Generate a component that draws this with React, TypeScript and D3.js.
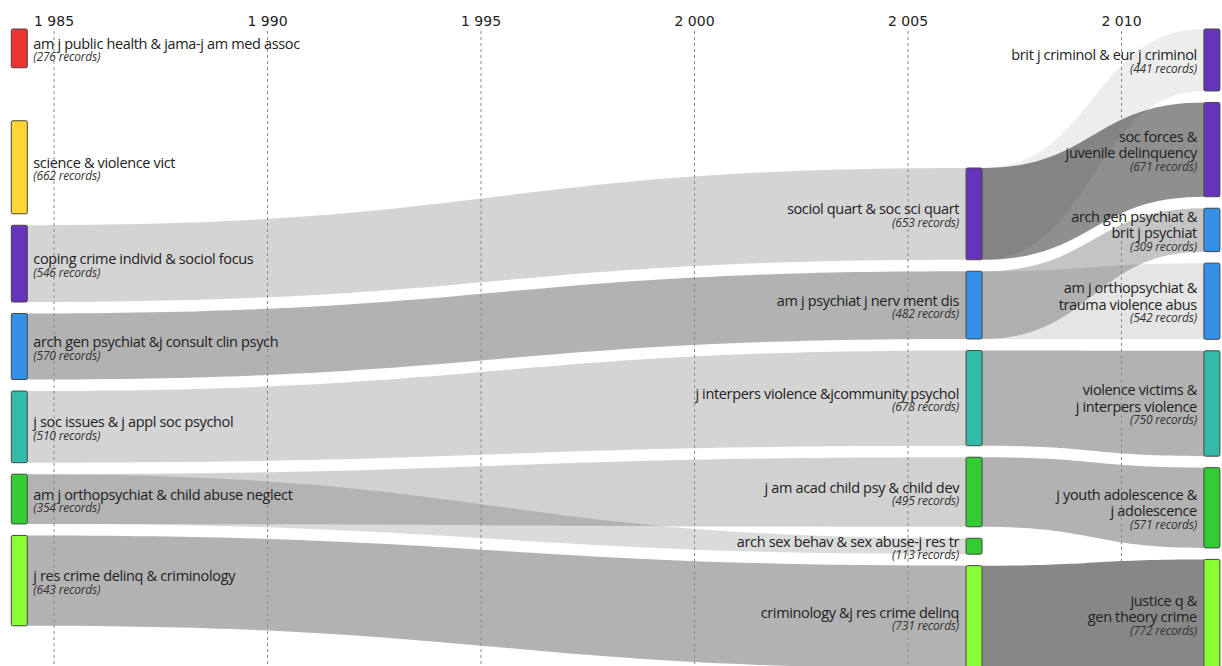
import React from "react";
import * as d3 from "d3";

// axis
const tickYears = [1985, 1990, 1995, 2000, 2005, 2010];
const columnYears = [1984, 2006.36, 2011.93];

// left column (1984)
const leftLabels = [
  "am j public health & jama-j am med assoc",
  "science & violence vict",
  "coping crime individ & sociol focus",
  "arch gen psychiat &j consult clin psych",
  "j soc issues & j appl soc psychol",
  "am j orthopsychiat & child abuse neglect",
  "j res crime delinq & criminology",
];
const leftRecords = [276, 662, 546, 570, 510, 354, 643];
const leftWeight = [276, 662, 546, 470, 510, 354, 643];
const leftCluster = ["medicine", "victimology", "sociology", "psychiatry", "violence", "child", "criminology"];

// middle column
const midLabels = [
  "sociol quart & soc sci quart",
  "am j psychiat j nerv ment dis",
  "j interpers violence &jcommunity psychol",
  "j am acad child psy & child dev",
  "arch sex behav & sex abuse-j res tr",
  "criminology &j res crime delinq",
];
const midRecords = [653, 482, 678, 495, 113, 731];
const midWeight = [653, 482, 678, 495, 113, 731];
const midCluster = ["sociology", "psychiatry", "violence", "child", "child", "criminology"];

// right column
const rightLabels = [
  "brit j criminol & eur j criminol",
  "soc forces &\njuvenile delinquency",
  "arch gen psychiat &\nbrit j psychiat",
  "am j orthopsychiat &\ntrauma violence abus",
  "violence victims &\nj interpers violence",
  "j youth adolescence &\nj adolescence",
  "justice q &\ngen theory crime",
];
const rightRecords = [441, 671, 309, 542, 750, 571, 772];
const rightWeight = [441, 671, 309, 542, 750, 571, 772];
const rightCluster = ["sociology", "sociology", "psychiatry", "psychiatry", "violence", "child", "criminology"];

// flows: source -> target, overlap share
const linkSource = ["L2", "L3", "L4", "L5", "L5", "L6", "M0", "M0", "M1", "M1", "M2", "M3", "M5"];
const linkTarget = ["M0", "M1", "M2", "M3", "M4", "M5", "R1", "R0", "R2", "R3", "R4", "R5", "R6"];
const linkOverlap = [0.17, 0.3, 0.17, 0.18, 0.14, 0.3, 0.44, 0.07, 0.23, 0.1, 0.3, 0.3, 0.47];

const clusterColor: Record<string, string> = {
  medicine: "#ee3333",
  victimology: "#ffd633",
  sociology: "#6633bb",
  psychiatry: "#3390e6",
  violence: "#33bbaa",
  child: "#33cc33",
  criminology: "#88ff33",
};

const W = 1222;
const H = 666;
const nodeW = 16;
const pad = 11.5;
const colTop = [29, 168, 29];
const extraGap: Record<string, number> = { L0: 41.5 };

const x = d3.scaleLinear().domain([1985, 2010]).range([54, 1121.5]);
const h = d3.scaleLinear().domain([0, 1000]).range([0, 140.5]);

const fmtLocale = d3.formatLocale({ decimal: ",", thousands: " ", grouping: [3], currency: ["", ""] });
const fmtYear = fmtLocale.format(",d");

type Node = {
  id: string;
  col: number;
  label: string[];
  records: number;
  color: string;
  x0: number;
  y0: number;
  y1: number;
};

const columns = [
  { prefix: "L", labels: leftLabels, records: leftRecords, weight: leftWeight, cluster: leftCluster },
  { prefix: "M", labels: midLabels, records: midRecords, weight: midWeight, cluster: midCluster },
  { prefix: "R", labels: rightLabels, records: rightRecords, weight: rightWeight, cluster: rightCluster },
];

const nodes: Node[] = [];
columns.forEach((c, ci) => {
  let y = colTop[ci];
  c.labels.forEach((lab, i) => {
    const id = c.prefix + i;
    const y0 = y;
    const y1 = y0 + h(c.weight[i]);
    nodes.push({
      id,
      col: ci,
      label: lab.split("\n"),
      records: c.records[i],
      color: clusterColor[c.cluster[i]],
      x0: x(columnYears[ci]),
      y0,
      y1,
    });
    y = y1 + pad + (extraGap[id] || 0);
  });
});
const byId = new Map(nodes.map((n) => [n.id, n]));

const links = linkSource.map((s, i) => ({
  source: byId.get(s)!,
  target: byId.get(linkTarget[i])!,
  overlap: linkOverlap[i],
}));

function bandPath(s: Node, t: Node) {
  const x0 = s.x0 + nodeW;
  const x1 = t.x0;
  const xm = (x0 + x1) / 2;
  const p = d3.path();
  p.moveTo(x0, s.y0);
  p.bezierCurveTo(xm, s.y0, xm, t.y0, x1, t.y0);
  p.lineTo(x1, t.y1);
  p.bezierCurveTo(xm, t.y1, xm, s.y1, x0, s.y1);
  p.closePath();
  return p.toString();
}

const labelFont = "'Open Sans', 'Noto Sans', sans-serif";

export default function App() {
  return (
    <svg
      width={W}
      height={H}
      viewBox={`0 0 ${W} ${H}`}
      style={{ position: "absolute", left: 0, top: 0, background: "#fff" }}
    >
      <g className="links">
        {links.map((l, i) => (
          <path key={i} d={bandPath(l.source, l.target)} fill="#000" fillOpacity={l.overlap} />
        ))}
      </g>
      <g className="grid">
        {tickYears.map((yr) => (
          <g key={yr}>
            <line
              x1={x(yr)}
              x2={x(yr)}
              y1={31}
              y2={H}
              stroke="#8a8a8a"
              strokeWidth={1}
              strokeDasharray="3,3"
            />
            <text
              x={x(yr)}
              y={26}
              textAnchor="middle"
              fontFamily="'DejaVu Sans', sans-serif"
              fontSize={14}
              fill="#222"
            >
              {fmtYear(yr)}
            </text>
          </g>
        ))}
      </g>
      <g className="nodes">
        {nodes.map((n) => (
          <rect
            key={n.id}
            x={n.x0}
            y={n.y0}
            width={nodeW}
            height={n.y1 - n.y0}
            rx={1.5}
            fill={n.color}
            stroke="#444"
            strokeWidth={1}
          />
        ))}
      </g>
      <g className="labels" fontFamily={labelFont}>
        {nodes.map((n) => {
          const left = n.col === 0;
          const tx = left ? n.x0 + nodeW + 6 : n.x0 - 7;
          const cy = (n.y0 + n.y1) / 2;
          const first = cy + 0.5 - (n.label.length - 1) * 8.5;
          const last = first + (n.label.length - 1) * 16.5;
          return (
            <g key={n.id} textAnchor={left ? "start" : "end"}>
              {n.label.map((line, j) => (
                <text key={j} x={tx} y={first + j * 16.5} fontSize={14.5} letterSpacing={-0.35} fill="#222">
                  {line}
                </text>
              ))}
              <text x={tx} y={last + 12.5} fontSize={12} fontStyle="italic" letterSpacing={-0.2} fill="#333">
                ({n.records} records)
              </text>
            </g>
          );
        })}
      </g>
    </svg>
  );
}
